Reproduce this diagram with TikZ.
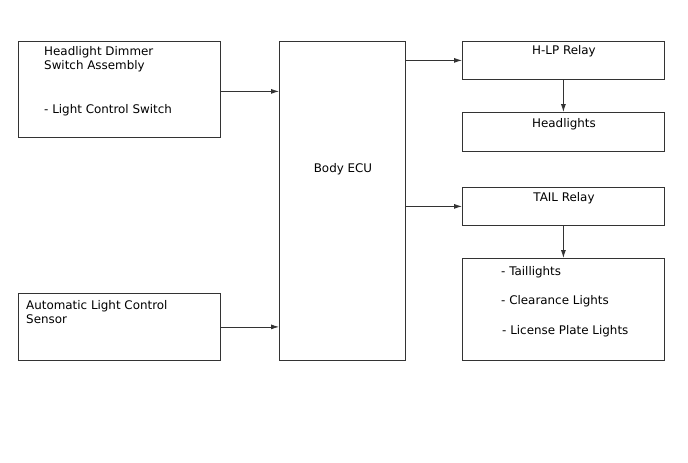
\documentclass[tikz,border=0pt]{standalone}
\usepackage{fontspec}
\setmainfont{DejaVu Sans}
\usetikzlibrary{arrows.meta, positioning, calc}
\definecolor{boxline}{HTML}{333333}

\begin{document}
\begin{tikzpicture}[
  x=1pt, y=-1pt,
  box/.style={rectangle, draw=boxline, thick, inner sep=0pt, anchor=north west},
  txt/.style={font=\fontsize{11.9}{14.5}\selectfont, inner sep=0pt, align=left},
  link/.style={draw=boxline, thick, -{Latex[length=8pt, width=5pt]}}
]
\useasboundingbox (0,0) rectangle (688,463);

% input side
\node[box, minimum width=202pt, minimum height=96pt] (hds) at (18,41) {};
\node[box, minimum width=202pt, minimum height=67pt] (alc) at (18,293) {};
\node[txt, anchor=north west] (hdstxt) at (44,46) {Headlight Dimmer\\Switch Assembly};
\node[txt, anchor=west] (lcs) at (44,110) {- Light Control Switch};
\node[txt, anchor=north west] (alctxt) at (26,300) {Automatic Light Control\\Sensor};

% ECU
\node[box, minimum width=126pt, minimum height=319pt] (ecu) at (279,41) {};
\node[txt] (ecutxt) at (343,169) {Body ECU};

% output side
\node[box, minimum width=202pt, minimum height=38pt] (hlp) at (462,41) {};
\node[box, minimum width=202pt, minimum height=39pt] (head) at (462,112) {};
\node[box, minimum width=202pt, minimum height=38pt] (tail) at (462,187) {};
\node[box, minimum width=202pt, minimum height=102pt] (lights) at (462,258) {};
\node[txt] (hlptxt) at (564,51) {H-LP Relay};
\node[txt] (headtxt) at (564,124) {Headlights};
\node[txt] (tailtxt) at (564,198) {TAIL Relay};
\node[txt, anchor=west] (tl) at (501,272) {- Taillights};
\node[txt, anchor=west] (cl) at (501,301) {- Clearance Lights};
\node[txt, anchor=west] (lpl) at (502,331) {- License Plate Lights};

% connectors
\draw[link] ($(hds.east)+(0,2)$) -- ($(hds.east -| ecu.west)+(0,2)$);
\draw[link] (alc.east) -- (alc.east -| ecu.west);
\draw[link] (hlp.west -| ecu.east) -- (hlp.west);
\draw[link] (tail.west -| ecu.east) -- (tail.west);
\draw[link] (hlp.south) -- (head.north);
\draw[link] (tail.south) -- (lights.north);
\end{tikzpicture}
\end{document}
